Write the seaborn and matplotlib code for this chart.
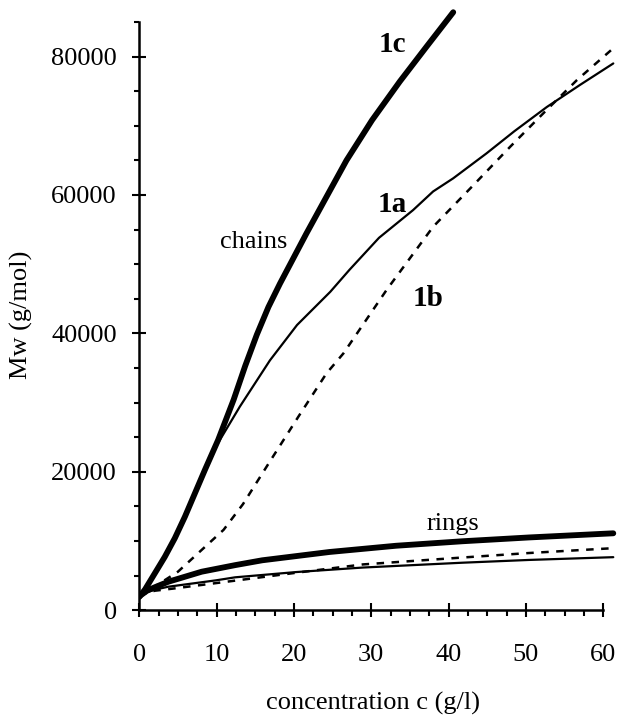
import matplotlib
matplotlib.use("Agg")
import matplotlib.pyplot as plt
from matplotlib.ticker import MultipleLocator
import seaborn as sns

# ---- data ----
c1c_x = [0, 0.75, 2.0, 3.3, 4.6, 5.9, 7.2, 8.5, 10.2, 12.2, 13.7, 15.2, 16.7, 18.2, 21.6, 24.0, 26.8, 30.1, 33.7, 37.2, 40.6]
c1c_y = [1900, 3000, 5300, 7700, 10400, 13500, 16900, 20300, 24600, 30400, 35300, 39800, 43800, 47200, 54400, 59300, 65000, 70800, 76400, 81500, 86400]

c1a_x = [0, 0.75, 2.0, 3.3, 4.6, 5.9, 7.2, 8.5, 10.0, 13.0, 16.9, 20.4, 24.7, 27.2, 31.0, 35.4, 38.0, 40.6, 44.9, 48.5, 52.7, 57.0, 61.3]
c1a_y = [1900, 3000, 5300, 7700, 10400, 13400, 16700, 20000, 23800, 29400, 36100, 41200, 46000, 49200, 53800, 57800, 60500, 62400, 66000, 69200, 72700, 75900, 79000]

c1b_x = [0, 2, 5.0, 8.07, 10.9, 13.4, 16.9, 20.6, 24.2, 26.4, 32.0, 38.0, 43.2, 48.0, 52.7, 56.6, 61.3]
c1b_y = [1900, 3400, 5550, 8700, 11600, 15300, 21500, 28000, 34200, 37100, 46300, 55400, 61400, 67000, 72300, 76600, 81200]

ring_c_x = [0, 1, 2, 3.75, 8.07, 12.4, 15.9, 24.6, 33.2, 41.8, 50.4, 61.3]
ring_c_y = [2000, 2800, 3300, 4100, 5550, 6500, 7200, 8400, 9300, 9950, 10500, 11100]

ring_a_x = [0, 1, 2, 3.75, 9.9, 12.4, 20.3, 28.9, 41.8, 50.4, 61.3]
ring_a_y = [2000, 2600, 2950, 3380, 4300, 4740, 5500, 6150, 6850, 7250, 7650]

ring_b_x = [0, 1, 2, 4.3, 9.9, 20.3, 28.9, 41.8, 50.4, 61.3]
ring_b_y = [2000, 2500, 2800, 3100, 3900, 5400, 6600, 7600, 8250, 8950]

x_ticks = [0, 10, 20, 30, 40, 50, 60]
y_ticks = [0, 20000, 40000, 60000, 80000]

sns.set_style("ticks")
plt.rcParams['font.family'] = ['Liberation Serif', 'DejaVu Serif']
plt.rcParams['text.color'] = 'black'
plt.rcParams['axes.labelcolor'] = 'black'
plt.rcParams['xtick.color'] = 'black'
plt.rcParams['ytick.color'] = 'black'

fig = plt.figure(figsize=(6.21, 7.15), dpi=100)
ax = fig.add_axes([0.2243, 0.1467, 0.772, 0.842])

thick, thin, dash_lw = 4.2, 1.6, 1.8
dash = (0, (3, 3))

sns.lineplot(x=c1c_x, y=c1c_y, ax=ax, color='black', lw=thick, estimator=None, sort=False)
sns.lineplot(x=c1a_x, y=c1a_y, ax=ax, color='black', lw=thin, estimator=None, sort=False)
sns.lineplot(x=c1b_x, y=c1b_y, ax=ax, color='black', lw=dash_lw, linestyle=dash, estimator=None, sort=False)
sns.lineplot(x=ring_c_x, y=ring_c_y, ax=ax, color='black', lw=thick, estimator=None, sort=False)
sns.lineplot(x=ring_a_x, y=ring_a_y, ax=ax, color='black', lw=thin, estimator=None, sort=False)
sns.lineplot(x=ring_b_x, y=ring_b_y, ax=ax, color='black', lw=dash_lw, linestyle=dash, estimator=None, sort=False)

ax.set_xlim(0, 62)
ax.set_ylim(0, 87000)

for s in ['top', 'right']:
    ax.spines[s].set_visible(False)
ax.spines['left'].set_bounds(0, 85000)
ax.spines['bottom'].set_bounds(0, 60)
for s in ['left', 'bottom']:
    ax.spines[s].set_linewidth(1.8)
    ax.spines[s].set_color('black')

ax.set_xticks(x_ticks)
ax.set_xticklabels([str(t) for t in x_ticks])
ax.set_yticks(y_ticks)
ax.set_yticklabels([str(t) for t in y_ticks])
ax.xaxis.set_minor_locator(MultipleLocator(2.5))
ax.yaxis.set_minor_locator(MultipleLocator(5000))

ax.tick_params(axis='both', which='major', direction='inout', length=10.5, width=1.5,
               labelsize=19, colors='black')
ax.tick_params(axis='x', which='major', pad=19)
ax.tick_params(axis='y', which='major', pad=11)
ax.tick_params(axis='x', which='minor', direction='out', length=4.5, width=1.5)
ax.tick_params(axis='y', which='minor', direction='out', length=3.8, width=1.5)

ax.set_xlabel('concentration c (g/l)', fontsize=19)
ax.set_ylabel('Mw (g/mol)', fontsize=19)
ax.xaxis.set_label_coords(0.487, -0.136)
ax.yaxis.set_label_coords(-0.222, 0.49)

ax.text(32.7, 80700, '1c', fontsize=21, fontweight='bold', ha='center', va='baseline')
ax.text(32.7, 57570, '1a', fontsize=21, fontweight='bold', ha='center', va='baseline')
ax.text(37.4, 43950, '1b', fontsize=21, fontweight='bold', ha='center', va='baseline')
ax.text(14.8, 52280, 'chains', fontsize=19, ha='center', va='baseline')
ax.text(40.6, 11575, 'rings', fontsize=19, ha='center', va='baseline')

fig.savefig('out.png', dpi=100)
